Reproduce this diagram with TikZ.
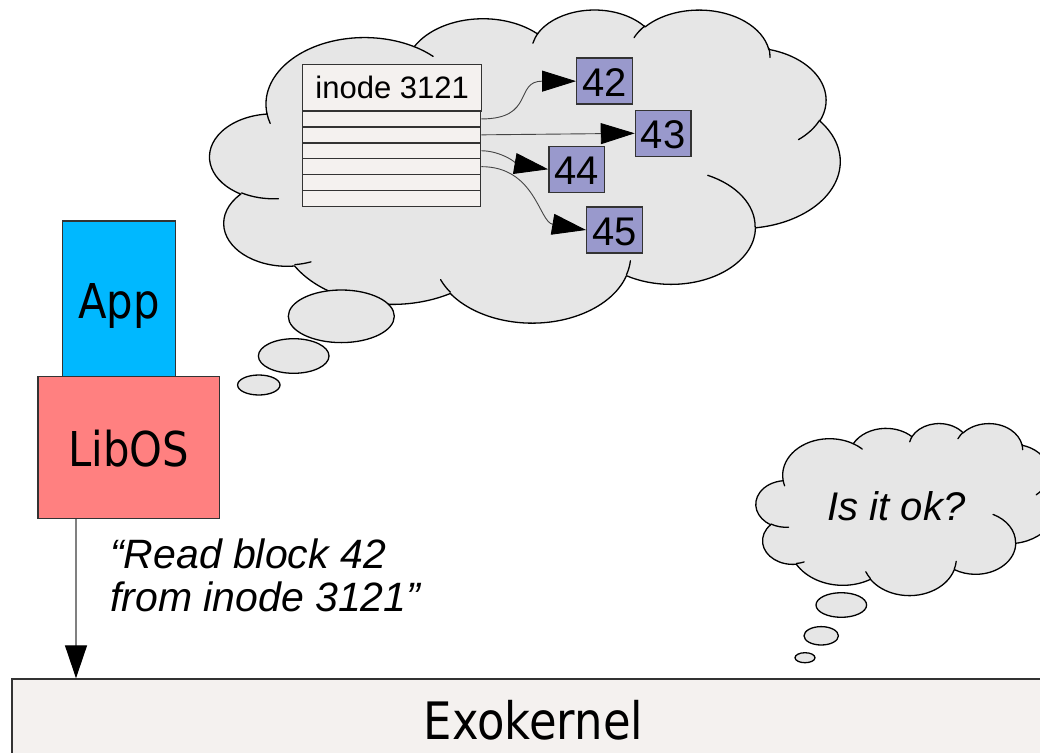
\documentclass[tikz,border=0pt]{standalone}
\usepackage{fontspec}
\usetikzlibrary{arrows.meta}
\newfontfamily\dvs[FakeStretch=0.87]{DejaVu Sans}
\newfontfamily\lib{Liberation Sans}
\definecolor{cloudgray}{HTML}{E6E6E6}
\definecolor{paper}{HTML}{F4F1EF}
\definecolor{appblue}{HTML}{00B8FF}
\definecolor{libred}{HTML}{FF8080}
\definecolor{numblue}{HTML}{9999CC}
\definecolor{edge}{HTML}{333333}
\definecolor{linkgray}{HTML}{444444}
\definecolor{callgray}{HTML}{808080}

% OOXML-style arcTo: visual start angle -> parametric angles
\newcommand\oocalc[4]{%
  \pgfmathparse{atan2((#1)*sin(#3),(#2)*cos(#3))}\xdef\ooS{\pgfmathresult}%
  \pgfmathparse{atan2((#1)*sin((#3)+(#4)),(#2)*cos((#3)+(#4)))}\xdef\ooE{\pgfmathresult}%
  \pgfmathparse{(\ooE)-(\ooS)+360*((#4)>0)*((\ooE)<(\ooS))-360*((#4)<0)*((\ooE)>(\ooS))}\xdef\ooD{\pgfmathresult}}
\newcommand\ooarc[4]{\pgfextra{\oocalc{#1}{#2}{#3}{#4}} arc[start angle=\ooS, delta angle=\ooD, x radius=#1, y radius=#2]}

\newcommand\oocloud[4]{%
\begin{scope}[shift={(#1,#2)},xscale=#3/432,yscale=#4/432]
\draw[cloudshape] (39,143.7)
  \ooarc{67.53}{91.90}{-190.4875}{123.7805}
  \ooarc{53.33}{72.67}{-144.1024}{89.9452}
  \ooarc{43.65}{59.45}{-145.8079}{99.7230}
  \ooarc{48.57}{65.95}{-130.9861}{117.2417}
  \ooarc{53.33}{72.73}{-78.7089}{109.0269}
  \ooarc{67.75}{92.20}{-46.2673}{130.2690}
  \ooarc{57.85}{78.67}{0.6250}{114.0333}
  \ooarc{67.52}{92.15}{22.4516}{115.1726}
  \ooarc{77.20}{105.43}{66.2426}{75.7110}
  \ooarc{43.60}{59.18}{-274.9421}{146.7356}
  \ooarc{43.45}{59.45}{-246.8285}{152.5189}
  -- cycle;
\draw[crease]
  (46.93,261.77) \ooarc{43.45}{59.45}{86.7420}{26.4295}
  (69.28,348.99) \ooarc{43.60}{59.18}{73.6105}{11.4475}
  (164.78,390.90) \ooarc{67.52}{92.15}{137.6242}{14.0811}
  (288.27,347.51) \ooarc{67.52}{92.15}{6.4533}{15.9984}
  (341.29,229.54) \ooarc{57.85}{78.67}{-70.2924}{70.9174}
  (417.98,153.54) \ooarc{53.33}{72.73}{30.3180}{27.7515}
  (383.24,54.26) \ooarc{48.57}{65.95}{-13.7443}{14.8589}
  (290.78,39.52) \ooarc{48.57}{65.95}{-149.1815}{18.1954}
  (221.41,47.20) \ooarc{43.65}{59.45}{-163.4943}{17.6864}
  (140.00,51.92) \ooarc{67.53}{91.90}{-66.7070}{12.3194}
  (41.27,157.89) \ooarc{67.53}{91.90}{157.6544}{11.8582};
\end{scope}}

\tikzset{
  cloudshape/.style={fill=cloudgray, draw=black, line width=1.3pt, line join=round},
  crease/.style={draw=black, line width=1.3pt, line cap=round},
  bubble/.style={fill=cloudgray, draw=black, line width=1.3pt},
  box/.style={draw=edge, line width=1.4pt, inner sep=0pt},
  row/.style={box, fill=paper, minimum width=178pt, minimum height=15.9pt},
  numbox/.style={box, fill=numblue, minimum width=55.5pt, minimum height=46pt,
    font=\lib\fontsize{40}{40}\selectfont, text height=32pt, text depth=1pt},
  link/.style={draw=linkgray, line width=0.9pt, -{Triangle[length=34pt,width=21pt,color=black]}},
  callarrow/.style={draw=callgray, line width=1.3pt, -{Triangle[length=33pt,width=22pt,color=black]}},
  saying/.style={font=\lib\itshape\fontsize{41}{43.4}\selectfont, inner sep=0pt},
}

\begin{document}
\begin{tikzpicture}[x=1pt,y=1pt,yscale=-1]
\useasboundingbox (0,0) rectangle (1040,752);
\clip (0,0) rectangle (1040,752);

% main thought cloud
\oocloud{210}{9}{630}{313}
\draw[bubble] (341.3,316.3) ellipse[x radius=53, y radius=26.3];
\draw[bubble] (293.7,356) ellipse[x radius=35.3, y radius=17.3];
\draw[bubble] (258.8,385) ellipse[x radius=21.2, y radius=10];

% inode table
\node[box, fill=paper, minimum width=179pt, minimum height=46.7pt,
  font=\lib\fontsize{31}{31}\selectfont, text height=22pt, text depth=0.7pt]
  (inode) at (392.2,87.65) {inode 3121};
\foreach \i in {1,...,6}
  \node[row] (row\i) at (391.6,{111+15.9*\i-7.95}) {};

% blocks
\node[numbox] (n42) at (604.5,81.15) {42};
\node[numbox] (n43) at (663.2,133.3) {43};
\node[numbox] (n44) at (576.7,169.3) {44};
\node[numbox] (n45) at (614.5,230) {45};

\draw[link] (row1.east) .. controls +(54,0) and +(-62,0) .. (n42.west);
\draw[link] (row2.east) -- (n43.west);
\draw[link] (row3.east) .. controls +(20,0) and +(-29,-5) .. (n44.west);
\draw[link] (row4.east) .. controls +(54,0) and +(-47,-8) .. (n45.west);

% second cloud
\oocloud{756}{423}{300}{172}
\draw[bubble] (841.3,605) ellipse[x radius=25.3, y radius=12.3];
\draw[bubble] (821.2,635.8) ellipse[x radius=17.2, y radius=9.2];
\draw[bubble] (805,657.7) ellipse[x radius=10, y radius=5];
\node[saying, anchor=base, font=\lib\itshape\fontsize{40}{44}\selectfont] (ok) at (896.5,520.7) {Is it ok?};

% app stack
\node[box, fill=appblue, minimum width=113pt, minimum height=155.7pt,
  font=\dvs\fontsize{48}{48}\selectfont, text height=40pt, text depth=1.1pt]
  (app) at (119.2,298.85) {App};
\node[box, fill=libred, minimum width=181.3pt, minimum height=141.6pt,
  font=\dvs\fontsize{48}{48}\selectfont, text height=39.5pt, text depth=1.1pt]
  (libos) at (128.65,447.5) {LibOS};

% exokernel
\node[box, fill=paper, minimum width=1043pt, minimum height=77pt,
  font=\dvs\fontsize{51.6}{52}\selectfont, text height=45pt, text depth=1.4pt]
  (exo) at (533.5,717.5) {Exokernel};

\coordinate (ax) at (76,600);
\draw[callarrow] (libos.south -| ax) -- (exo.north -| ax);
\node[saying, anchor=base west, align=left] (req) at (110,611.7)
  {“Read block 42\\from inode 3121”};
\end{tikzpicture}
\end{document}
